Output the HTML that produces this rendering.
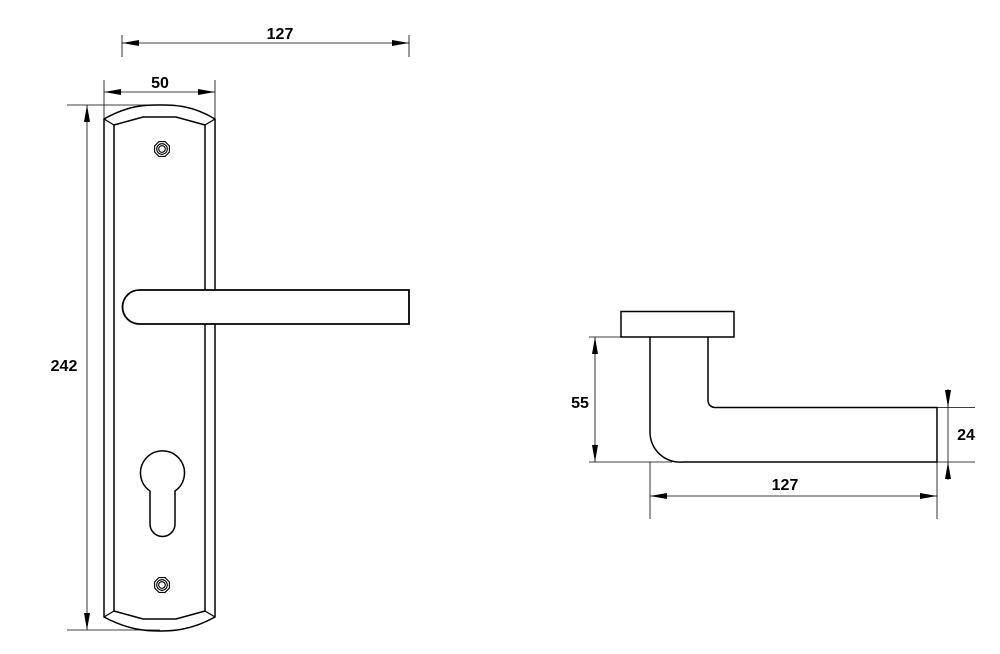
<!DOCTYPE html>
<html><head><meta charset="utf-8"><style>
html,body{margin:0;padding:0;background:#fff;}
svg{display:block}
text{font-family:"Liberation Sans",Arial,sans-serif;font-weight:bold;font-size:16px;fill:#000;}
</style></head><body>
<svg width="1000" height="654" viewBox="0 0 1000 654" xmlns="http://www.w3.org/2000/svg">
<defs>
<g id="screw">
<polygon points="8,0 5.66,5.66 0,8 -5.66,5.66 -8,0 -5.66,-5.66 0,-8 5.66,-5.66" transform="rotate(22.5)" fill="none" stroke="#000" stroke-width="1.1"/>
<circle r="5.3" fill="none" stroke="#000" stroke-width="1.1"/>
<circle r="3.3" fill="none" stroke="#000" stroke-width="1.1"/>
</g>
</defs>
<g stroke="#000" fill="none">
<path d="M104,119 C130,104 150,105 160,105 C170,105 190,104 215,119 L215,617 C190,631 170,631 160,631 C150,631 130,631 104,617 Z" stroke-width="1.5" fill="#fff"/>
<path d="M114,125 L143,117 L176,117 L205,125 L205,611 L176,619 L143,619 L114,611 Z" stroke-width="1.5"/>
<line x1="104" y1="119" x2="114" y2="125" stroke-width="1.3"/>
<line x1="215" y1="119" x2="205" y2="125" stroke-width="1.3"/>
<line x1="104" y1="617" x2="114" y2="611" stroke-width="1.3"/>
<line x1="215" y1="617" x2="205" y2="611" stroke-width="1.3"/>
<path d="M150,491 A22,22 0 1 1 175,491 L175,524 A12.5,12.5 0 0 1 150,524 Z" stroke-width="1.5"/>
<path d="M139.5,290 L409,290 L409,324 L139.5,324 A17,17 0 0 1 139.5,290 Z" stroke-width="1.8" fill="#fff"/>
</g>
<use href="#screw" x="162" y="149"/>
<use href="#screw" x="162" y="585"/>
<g stroke="#000" stroke-width="0.8" fill="none">
<line x1="122" y1="35" x2="122" y2="57"/>
<line x1="409" y1="35" x2="409" y2="57"/>
<line x1="122" y1="43" x2="409" y2="43"/>
<line x1="104" y1="80" x2="104" y2="119"/>
<line x1="215" y1="80" x2="215" y2="119"/>
<line x1="104" y1="92" x2="215" y2="92"/>
<line x1="67" y1="105" x2="160" y2="105"/>
<line x1="67" y1="630" x2="160" y2="630"/>
<line x1="87" y1="105" x2="87" y2="630"/>
</g>
<g fill="#000">
<polygon points="122,43 139,40 139,46"/>
<polygon points="409,43 392,40 392,46"/>
<polygon points="104,92 121,89 121,95"/>
<polygon points="215,92 198,89 198,95"/>
<polygon points="87,105 84,122 90,122"/>
<polygon points="87,630 84,613 90,613"/>
</g>
<text x="280" y="39" text-anchor="middle">127</text>
<text x="160" y="88" text-anchor="middle">50</text>
<text x="64" y="371" text-anchor="middle">242</text>
<g stroke="#000" fill="none" stroke-width="1.5">
<rect x="621" y="311.5" width="113" height="25.5" fill="#fff"/>
<path d="M650,337 L650,432 A30,30 0 0 0 683,462 L937,462 L937,407.5 L715,407.5 A7,7 0 0 1 708,400.5 L708,337"/>
</g>
<g stroke="#000" stroke-width="0.8" fill="none">
<line x1="589" y1="337" x2="621" y2="337"/>
<line x1="589" y1="462" x2="672" y2="462"/>
<line x1="595" y1="337" x2="595" y2="462"/>
<line x1="937" y1="407.5" x2="975" y2="407.5"/>
<line x1="937" y1="462" x2="975" y2="462"/>
<line x1="948" y1="389" x2="948" y2="480"/>
<line x1="650" y1="462" x2="650" y2="519"/>
<line x1="937" y1="462" x2="937" y2="519"/>
<line x1="650" y1="496" x2="937" y2="496"/>
</g>
<g fill="#000">
<polygon points="595,337 592,354 598,354"/>
<polygon points="595,462 592,445 598,445"/>
<polygon points="948,407.5 945,390 951,390"/>
<polygon points="948,462 945,479 951,479"/>
<polygon points="650,496 667,493 667,499"/>
<polygon points="937,496 920,493 920,499"/>
</g>
<text x="580" y="408" text-anchor="middle">55</text>
<text x="966" y="440" text-anchor="middle">24</text>
<text x="785" y="490" text-anchor="middle">127</text>
</svg>
</body></html>
